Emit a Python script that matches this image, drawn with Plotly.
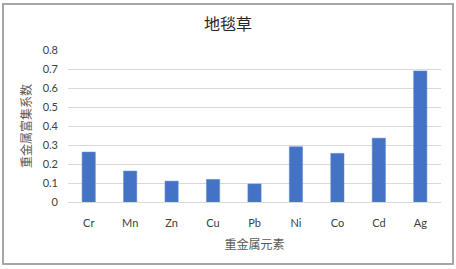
import plotly.graph_objects as go

elements = ["Cr", "Mn", "Zn", "Cu", "Pb", "Ni", "Co", "Cd", "Ag"]
enrichment = [0.263, 0.163, 0.110, 0.119, 0.095, 0.291, 0.256, 0.336, 0.690]
y_ticks = [0, 0.1, 0.2, 0.3, 0.4, 0.5, 0.6, 0.7, 0.8]
y_tick_labels = ["0", "0.1", "0.2", "0.3", "0.4", "0.5", "0.6", "0.7", "0.8"]

W, H = 456, 269
L, R, T, B = 68, 15, 50, 67
pw, ph = W - L - R, H - T - B

def px_x(p):
    return (p - L) / pw

def px_y(p):
    return (H - B - p) / ph

fig = go.Figure(go.Bar(
    x=elements, y=enrichment,
    marker=dict(color="#4472C4", line=dict(color="#5b8ad6", width=0.5)),
    width=0.32,
))

fig.update_layout(
    width=W, height=H,
    margin=dict(l=L, r=R, t=T, b=B),
    paper_bgcolor="white", plot_bgcolor="white",
    showlegend=False,
    title=dict(text="地毯草", x=0.5, xanchor="center", y=1 - 24 / H, yanchor="middle",
               font=dict(family="Noto Sans CJK SC", size=16, color="#262626")),
    font=dict(family="Lato, Liberation Sans, sans-serif", size=11, color="#404040"),
    xaxis=dict(
        range=[-0.5, 8.5], showgrid=False, showline=True, linecolor="#d9d9d9", linewidth=1,
        ticks="", ticklen=0, ticklabelstandoff=11,
        tickfont=dict(size=11, color="#404040"),
        title=dict(text="重金属元素", standoff=12,
                   font=dict(family="Noto Sans CJK SC", size=12, color="#595959")),
    ),
    yaxis=dict(
        range=[0, 0.8], tickvals=y_ticks, ticktext=y_tick_labels,
        showgrid=True, gridcolor="#d9d9d9", gridwidth=1, zeroline=False,
        ticks="", ticklabelstandoff=9,
        tickfont=dict(size=11, color="#404040"),
        title=dict(text="重金属富集系数", standoff=8,
                   font=dict(family="Noto Sans CJK SC", size=12, color="#595959")),
    ),
    shapes=[dict(type="rect", xref="paper", yref="paper",
                 x0=px_x(3), x1=px_x(453), y0=px_y(264), y1=px_y(4),
                 line=dict(color="#a6a6a6", width=2), fillcolor="rgba(0,0,0,0)", layer="below")],
)

fig.write_html("out.html", config={"displayModeBar": False},
               post_script="document.body.style.margin='0';")
